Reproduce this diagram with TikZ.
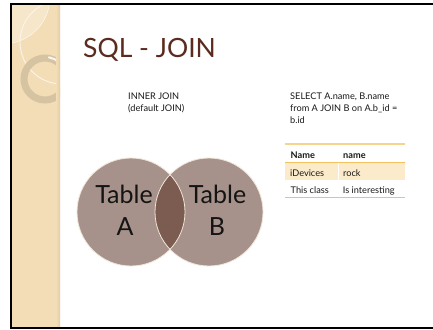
\documentclass[tikz,border=0pt]{standalone}
\usepackage{fontspec}
\setmainfont{Lato}
\definecolor{stripbeige}{HTML}{F2DDB6}
\definecolor{stripedge}{HTML}{E2CCA4}
\definecolor{stripglow}{HTML}{F6E7CB}
\definecolor{ringtan}{HTML}{D5C3A2}
\definecolor{titlebrown}{HTML}{5C2B1F}
\definecolor{vennfill}{HTML}{A6928A}
\definecolor{vennmid}{HTML}{7C5B51}
\definecolor{vennrim}{HTML}{EFE6D9}
\definecolor{rowfill}{HTML}{FCEBCA}
\definecolor{rulegold}{HTML}{F3C15E}
\tikzset{
  bodytext/.style={anchor=base west, inner sep=0pt, font=\fontsize{9.2}{11}\selectfont, text=black!90},
  headtext/.style={bodytext, font=\fontsize{9.2}{11}\selectfont\bfseries},
  venntext/.style={anchor=base, inner sep=0pt, font=\fontsize{25}{25}\selectfont, text=black!92},
  tablerule/.style={draw=rulegold, line width=1.1pt},
}
\begin{document}
\begin{tikzpicture}[x=1pt,y=-1pt]
\useasboundingbox (0,0) rectangle (433,329);
\fill[white] (0,0) rectangle (433,329);

% decorative side strip
\begin{scope}
  \clip (11,4) rectangle (60,327);
  \fill[stripbeige] (11,4) rectangle (60,327);
  \fill[stripglow] (3,-3) circle (47);
  \draw[white!80!stripbeige, line width=0.5pt] (3,-3) circle (47);
  \draw[white!70!stripbeige, line width=0.9pt] (62,42) circle (42);
  \draw[ringtan, line width=7pt] (45,79) circle (21);
  \draw[white!85!ringtan, line width=2pt, line cap=round] (45,79) ++(-80:22) arc (-80:-52:22);
  \shade[left color=stripbeige, right color=stripedge] (56,4) rectangle (60,327);
\end{scope}

% slide frame
\draw[black, line width=2pt] (433,3.8) -- (11,3.8) -- (11,327.8) -- (433,327.8);

% title
\node[anchor=base west, inner sep=0pt, font=\fontsize{26.5}{26.5}\selectfont, text=titlebrown] (title) at (83,57) {SQL - JOIN};

% captions
\node[bodytext] (cap1) at (128,99.3) {INNER JOIN};
\node[bodytext] (cap2) at (128,111.3) {(default JOIN)};
\node[bodytext] (sql1) at (290,99.3) {SELECT A.name, B.name};
\node[bodytext] (sql2) at (290,111.3) {from A JOIN B on A.b\_id =};
\node[bodytext] (sql3) at (290,123.3) {b.id};

% result table
\fill[rowfill] (285,162.8) rectangle (405,180);
\draw[white, line width=1pt] (338,162.8) -- (338,180);
\draw[tablerule, draw=rulegold!70] (285,144) -- (405,144);
\draw[tablerule] (285,162.3) -- (405,162.3);
\draw[tablerule] (285,197.3) -- (405,197.3);
\node[headtext] (h1) at (290.5,158.3) {Name};
\node[headtext] (h2) at (343,158.3) {name};
\node[bodytext] (r11) at (290,176) {iDevices};
\node[bodytext] (r12) at (343,176) {rock};
\node[bodytext] (r21) at (290.5,193.3) {This class};
\node[bodytext] (r22) at (342.7,193.3) {Is interesting};

% venn diagram
\fill[vennfill] (131,212) circle (54);
\fill[vennfill] (209,212) circle (54);
\begin{scope}
  \clip (131,212) circle (54);
  \fill[vennmid] (209,212) circle (54);
\end{scope}
\draw[vennrim, line width=0.8pt] (131,212) circle (54);
\draw[vennrim, line width=0.8pt] (209,212) circle (54);
\node[venntext] (ta1) at (124,203) {Table};
\node[venntext] (ta2) at (125,235) {A};
\node[venntext] (tb1) at (217.5,203) {Table};
\node[venntext] (tb2) at (217,235) {B};
\end{tikzpicture}
\end{document}
